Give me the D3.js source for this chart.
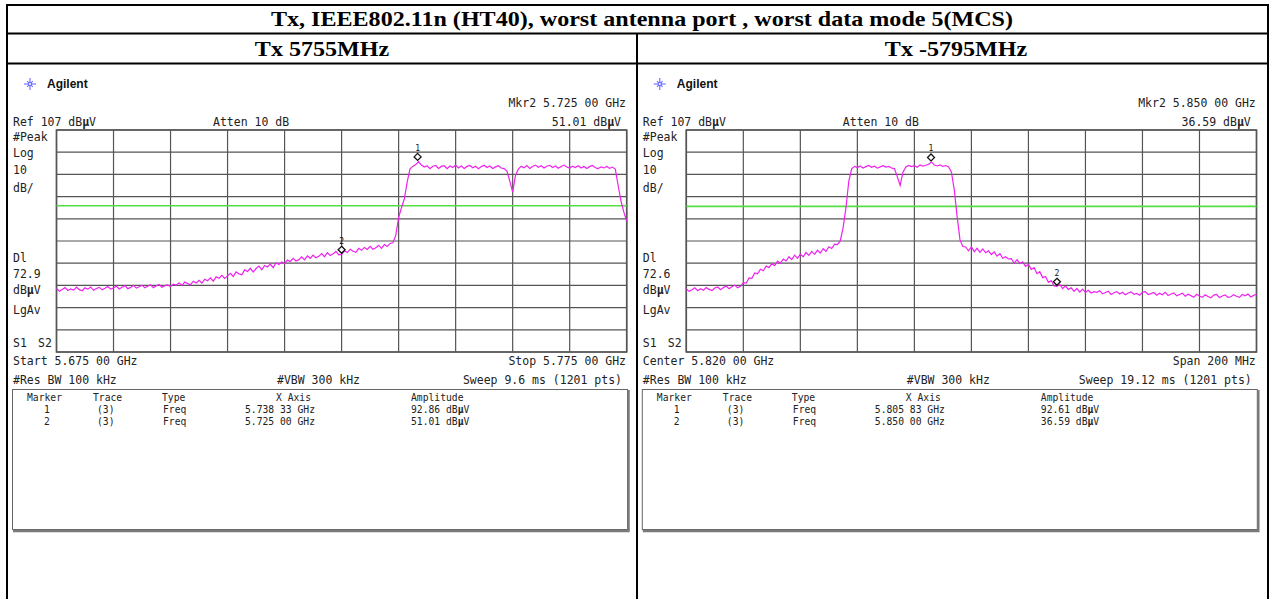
<!DOCTYPE html>
<html><head><meta charset="utf-8">
<script src="https://cdn.jsdelivr.net/npm/d3@7"></script>
<style>body{margin:0;background:#fff}svg{display:block}</style>
</head><body>
<svg id="c" width="1271" height="599"></svg>
<script>
// ---------- DATA ----------
const title = "Tx, IEEE802.11n (HT40), worst antenna port , worst data mode 5(MCS)";
const panelTitles = ["Tx 5755MHz", "Tx -5795MHz"];

// Left panel (start/stop sweep, GHz), trace in dBµV at equal sweep steps
const sweepL = [5.675, 5.775];
const traceL = [
35.6,34.4,35.2,36.0,34.7,35.4,34.9,36.2,35.1,34.6,
35.9,35.3,36.3,34.8,35.6,36.1,35.0,35.7,36.5,35.3,
35.8,36.7,35.4,36.2,36.9,35.5,36.1,37.0,35.8,36.4,
37.1,35.9,36.6,37.3,36.0,36.8,37.4,36.2,36.9,37.2,
36.5,37.6,37.1,38.2,36.9,38.5,37.8,37.3,38.9,38.1,
39.3,38.0,39.8,39.1,40.4,38.9,40.9,40.2,41.5,40.1,
41.3,42.4,41.0,43.1,42.2,41.8,44.0,43.3,44.7,43.0,
44.6,45.7,44.1,46.0,45.3,46.6,45.0,47.2,46.4,47.6,
46.9,48.4,47.8,49.2,48.0,48.6,49.9,48.5,50.3,49.2,
50.6,49.4,50.1,51.3,49.9,51.7,50.5,51.2,52.3,50.8,
51.0,52.6,51.8,53.3,52.4,51.9,53.7,52.8,54.1,53.2,
54.6,53.3,54.0,55.1,53.7,55.4,54.5,55.9,56.2,
59.5,67.5,72.0,76.0,83.5,89.5,
90.6,91.4,92.7,91.2,90.3,90.9,89.6,90.7,91.0,89.7,
90.6,90.9,89.6,90.8,90.1,91.2,89.9,90.8,89.7,90.6,
91.0,90.0,90.7,89.6,90.5,91.1,90.1,90.8,89.7,90.4,
90.9,89.9,89.6,88.5,
84.0,79.0,86.5,
89.4,90.7,90.0,91.0,89.7,90.6,91.2,90.2,90.9,89.9,
90.7,91.1,90.1,90.8,89.8,90.6,91.2,90.3,89.8,90.7,
90.1,90.9,89.9,90.6,89.7,90.5,91.0,90.0,89.6,90.4,
89.9,90.6,89.7,90.3,89.4,
82.0,75.0,70.0,66.0
];
const markerFreqL = [5.73833, 5.725];
const markerAmpL = [92.86, 51.01];
const displayLineL = 72.9;

// Right panel (center/span 5.820 GHz / 200 MHz)
const sweepR = [5.72, 5.92];
const traceR = [
35.4,34.3,35.0,35.9,34.6,35.5,34.8,36.0,35.2,34.7,
35.8,36.3,35.1,36.0,36.7,35.5,36.4,37.1,35.9,36.6,
38.2,38.0,40.4,40.2,42.6,42.2,44.3,43.6,45.7,45.0,
46.8,45.9,47.9,47.0,48.9,48.0,49.9,48.6,50.6,49.2,
51.1,49.9,51.8,50.5,52.3,51.0,52.9,51.6,53.5,52.3,
54.4,53.6,55.6,55.4,
57.0,63.0,72.0,84.0,89.5,
90.6,90.1,90.8,89.9,90.5,91.0,90.2,90.7,89.8,90.4,
90.9,90.3,90.6,89.9,89.6,
86.0,82.0,88.0,
90.4,91.0,90.5,90.9,90.2,91.3,90.7,91.1,91.6,92.6,
91.2,90.8,91.3,90.6,91.0,90.4,
88.0,80.0,68.0,57.5,54.5,
54.3,52.6,54.4,52.2,53.7,51.9,53.4,51.7,52.6,
50.9,52.1,50.2,51.3,49.2,49.9,
48.9,49.1,47.0,48.6,46.9,47.6,
45.6,46.5,44.2,45.0,
42.3,43.2,40.5,41.0,
38.4,39.2,36.8,36.6,
37.4,35.6,36.8,35.2,
35.9,34.3,35.6,34.0,35.3,33.8,
34.8,33.6,34.2,33.9,34.6,33.2,33.8,34.4,32.9,33.7,34.2,33.1,33.9,
32.8,33.6,34.1,33.0,33.4,32.6,33.9,34.2,32.9,33.3,33.8,32.6,
33.5,32.8,33.9,32.4,33.1,33.6,32.3,32.9,33.5,32.1,33.0,
32.4,31.7,33.0,32.2,31.6,32.8,32.0,31.4,32.6,32.9,31.5,32.2,32.7,31.6,31.9,
32.8,32.1,31.6,32.9,32.3,33.1,31.8,32.5,33.0
];
const markerFreqR = [5.80583, 5.85];
const markerAmpR = [92.61, 36.59];
const displayLineR = 72.6;

// Instrument annotation texts
const refLevel = 107;      // dBµV, top of graticule
const dbPerDiv = 10;
const annotL = {
  mkrLine: "Mkr2  5.725 00 GHz", mkrAmp: "51.01 dBμV", dl: "72.9",
  startText: "Start 5.675 00 GHz", stopText: "Stop 5.775 00 GHz",
  sweepText: "Sweep 9.6 ms (1201 pts)",
  rows: [["1","(3)","Freq","5.738 33 GHz","92.86 dBμV"],["2","(3)","Freq","5.725 00 GHz","51.01 dBμV"]]
};
const annotR = {
  mkrLine: "Mkr2  5.850 00 GHz", mkrAmp: "36.59 dBμV", dl: "72.6",
  startText: "Center 5.820 00 GHz", stopText: "Span 200 MHz",
  sweepText: "Sweep 19.12 ms (1201 pts)",
  rows: [["1","(3)","Freq","5.805 83 GHz","92.61 dBμV"],["2","(3)","Freq","5.850 00 GHz","36.59 dBμV"]]
};
const tableHeaders = ["Marker","Trace","Type","X Axis","Amplitude"];

// ---------- DRAW ----------
const svg = d3.select("#c");
const MONO = "'DejaVu Sans Mono', 'Liberation Mono', monospace";
const SERIF = "'Liberation Serif','Times New Roman',serif";

// outer report table
const tbl = svg.append("g").attr("stroke","#000").attr("stroke-width",2);
tbl.append("line").attr("x1",6).attr("x2",1269).attr("y1",5).attr("y2",5);
tbl.append("line").attr("x1",6).attr("x2",1269).attr("y1",33.5).attr("y2",33.5);
tbl.append("line").attr("x1",6).attr("x2",1269).attr("y1",63.5).attr("y2",63.5);
tbl.append("line").attr("x1",7).attr("x2",7).attr("y1",4).attr("y2",599);
tbl.append("line").attr("x1",1268).attr("x2",1268).attr("y1",4).attr("y2",599);
tbl.append("line").attr("x1",637).attr("x2",637).attr("y1",33).attr("y2",599);

function serifText(cx, y, s) {
  svg.append("text").attr("transform",`translate(${cx},${y}) scale(1.12,1)`).attr("text-anchor","middle")
    .attr("font-family",SERIF).attr("font-weight","bold").attr("font-size",21.5).text(s);
}
serifText(642, 25.5, title);
serifText(322, 56, panelTitles[0]);
serifText(956, 56, panelTitles[1]);

function monoText(g, x, y, s, anchor, size, sx) {
  const t = g.append("text").attr("transform",`translate(${x},${y}) scale(${sx||0.92},1)`)
    .attr("text-anchor",anchor||"start").attr("font-family",MONO)
    .attr("font-size",size||12.5).attr("fill","#222");
  const parts = s.split("μ");
  parts.forEach((p,i)=>{
    if (i>0) t.append("tspan").attr("font-weight","bold").text("μ");
    t.append("tspan").text(p);
  });
  return t;
}

function panel(dx, sweep, trace, mF, mA, dline, ann) {
  const g = svg.append("g").attr("transform",`translate(${dx},0)`);
  const x = d3.scaleLinear().domain(sweep).range([56.5, 626.7]);
  const y = d3.scaleLinear().domain([refLevel - 10*dbPerDiv, refLevel]).range([352, 130]);

  // Agilent logo
  const logo = g.append("g").attr("transform","translate(30,84)").attr("stroke","#6b6bff").attr("stroke-width",1.1);
  d3.range(8).forEach(k=>{
    const a = k*Math.PI/4, r = k%2 ? 4 : 6;
    logo.append("line").attr("x1",Math.cos(a)*1.5).attr("y1",Math.sin(a)*1.5)
      .attr("x2",Math.cos(a)*r).attr("y2",Math.sin(a)*r);
  });
  logo.append("circle").attr("r",1.6).attr("fill","#fff");
  g.append("text").attr("x",47).attr("y",88).attr("font-family","'Liberation Sans',Arial,sans-serif")
    .attr("font-weight","bold").attr("font-size",12).attr("fill","#111").text("Agilent");

  // header annotations
  monoText(g, 626, 107, ann.mkrLine, "end");
  monoText(g, 13, 126, "Ref 107 dBμV");
  monoText(g, 213, 126, "Atten 10 dB");
  monoText(g, 621, 126, ann.mkrAmp, "end");
  monoText(g, 13, 141, "#Peak");
  monoText(g, 13, 157, "Log");
  monoText(g, 13, 174, "10");
  monoText(g, 13, 192, "dB/");
  monoText(g, 13, 262, "Dl");
  monoText(g, 13, 278, ann.dl);
  monoText(g, 13, 294, "dBμV");
  monoText(g, 13, 314, "LgAv");
  monoText(g, 13, 347, "S1");
  monoText(g, 38, 347, "S2");
  monoText(g, 13, 365, ann.startText);
  monoText(g, 626, 365, ann.stopText, "end");
  monoText(g, 13, 384, "#Res BW 100 kHz");
  monoText(g, 277, 384, "#VBW 300 kHz");
  monoText(g, 622, 384, ann.sweepText, "end");

  // graticule
  const grid = g.append("g").attr("stroke","#555").attr("stroke-width",1.2).attr("fill","none");
  const xt = d3.range(11).map(i=> sweep[0] + i*(sweep[1]-sweep[0])/10);
  const yt = d3.range(11).map(i=> refLevel - i*dbPerDiv);
  xt.forEach(v=> grid.append("line").attr("x1",x(v)).attr("x2",x(v)).attr("y1",y.range()[1]).attr("y2",y.range()[0]));
  yt.forEach(v=> grid.append("line").attr("x1",x.range()[0]).attr("x2",x.range()[1]).attr("y1",y(v)).attr("y2",y(v)));
  grid.append("rect").attr("x",x.range()[0]).attr("y",130).attr("width",x.range()[1]-x.range()[0]).attr("height",222).attr("stroke-width",1.6);

  // display line
  g.append("line").attr("x1",x.range()[0]).attr("x2",x.range()[1]).attr("y1",y(dline)).attr("y2",y(dline))
    .attr("stroke","#55dd44").attr("stroke-width",1.6);

  // trace
  const step = (sweep[1]-sweep[0])/(trace.length-1);
  const line = d3.line().x((d,i)=>x(sweep[0]+i*step)).y(d=>y(d));
  g.append("path").attr("d",line(trace)).attr("fill","none").attr("stroke","#ee22ee").attr("stroke-width",1.2);

  // markers
  mF.forEach((f,i)=>{
    const px = x(f), py = y(mA[i]) - 4.5;
    g.append("path").attr("d",`M${px},${py-3.5}L${px+3.5},${py}L${px},${py+3.5}L${px-3.5},${py}Z`)
      .attr("fill","#fff").attr("stroke","#111").attr("stroke-width",1.3);
    g.append("text").attr("x",px).attr("y",py-6).attr("text-anchor","middle")
      .attr("font-family",MONO).attr("font-size",8).attr("fill","#111").text(String(i+1));
  });

  // marker table box
  g.append("rect").attr("x",12.5).attr("y",389.5).attr("width",615).attr("height",140)
    .attr("fill","#fff").attr("stroke","#666").attr("stroke-width",1);
  g.append("path").attr("d","M628.5,390V531H13").attr("fill","none").attr("stroke","#7a7a7a").attr("stroke-width",2.5);
  const hx = [27, 93, 162, 276, 411];
  tableHeaders.forEach((h,i)=> monoText(g, hx[i], 401, h, "start", 10, 0.97));
  const cx = [44, 97, 163, 245, 411];
  ann.rows.forEach((r,ri)=>{
    r.forEach((c,ci)=> monoText(g, cx[ci], 413 + ri*12, c, "start", 10, 0.97));
  });
}

panel(0, sweepL, traceL, markerFreqL, markerAmpL, displayLineL, annotL);
panel(629.8, sweepR, traceR, markerFreqR, markerAmpR, displayLineR, annotR);
</script>
</body></html>
